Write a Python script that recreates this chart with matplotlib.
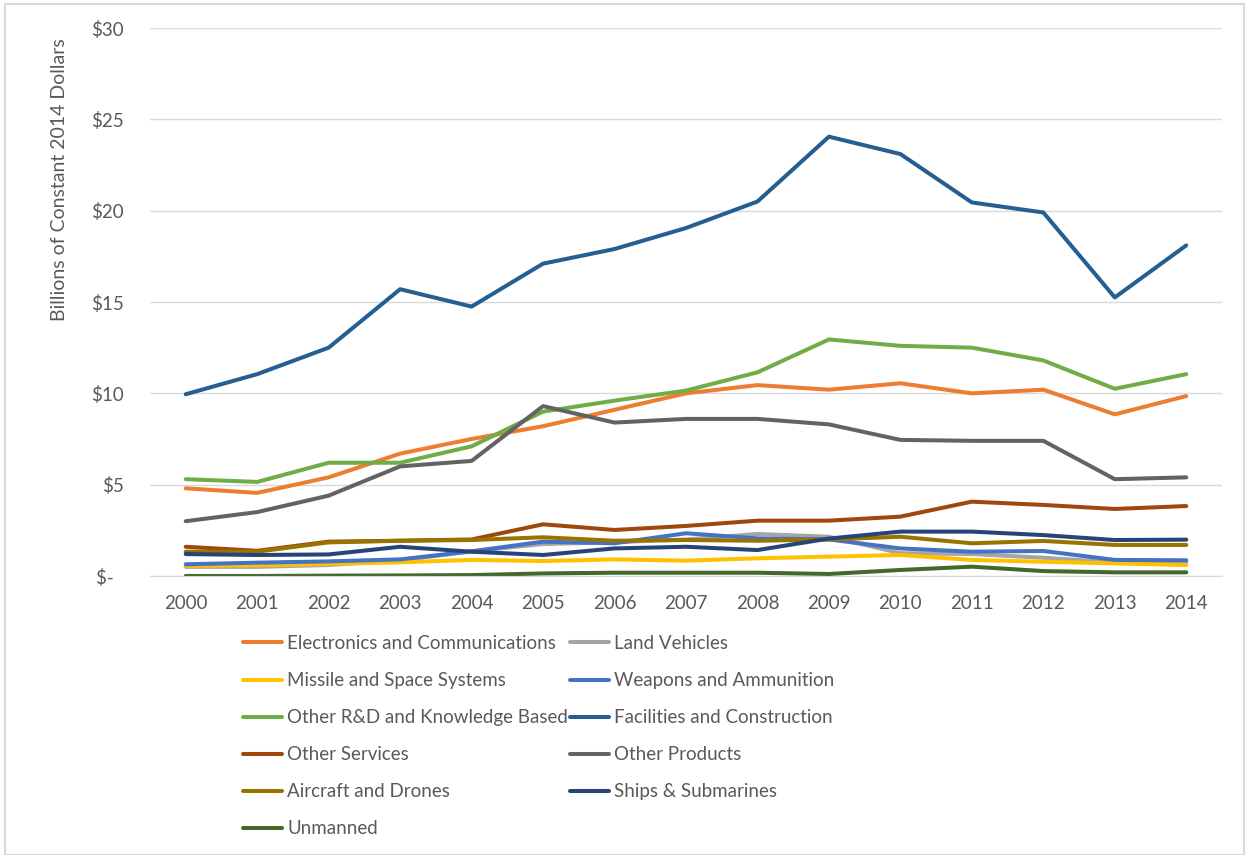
import numpy as np
import matplotlib
matplotlib.use('Agg')
import matplotlib.pyplot as plt
from matplotlib.patches import Rectangle

years = [str(y) for y in range(2000, 2015)]

electronics = [4.8, 4.55, 5.4, 6.7, 7.5, 8.2, 9.1, 10.0, 10.45, 10.2, 10.55, 10.0, 10.2, 8.85, 9.85]
land_vehicles = [0.5, 0.5, 0.6, 0.85, 1.35, 1.75, 1.85, 2.0, 2.3, 2.15, 1.25, 1.2, 1.0, 0.75, 0.75]
missile_space = [0.55, 0.58, 0.66, 0.75, 0.88, 0.82, 0.91, 0.84, 0.97, 1.06, 1.15, 0.88, 0.78, 0.69, 0.6]
weapons = [0.64, 0.73, 0.8, 0.91, 1.35, 1.88, 1.79, 2.34, 2.06, 2.0, 1.51, 1.33, 1.37, 0.88, 0.86]
other_rd = [5.3, 5.15, 6.2, 6.2, 7.1, 9.0, 9.6, 10.15, 11.15, 12.95, 12.6, 12.5, 11.8, 10.25, 11.05]
facilities = [9.95, 11.05, 12.5, 15.7, 14.75, 17.1, 17.9, 19.05, 20.5, 24.05, 23.1, 20.45, 19.9, 15.25, 18.1]
other_services = [1.6, 1.38, 1.88, 1.93, 2.0, 2.83, 2.52, 2.74, 3.03, 3.03, 3.25, 4.07, 3.89, 3.67, 3.83]
other_products = [3.0, 3.5, 4.4, 6.0, 6.3, 9.3, 8.4, 8.6, 8.6, 8.3, 7.45, 7.4, 7.4, 5.3, 5.4]
aircraft = [1.33, 1.33, 1.84, 1.93, 1.97, 2.12, 1.93, 1.97, 1.93, 2.0, 2.15, 1.79, 1.92, 1.7, 1.7]
ships = [1.2, 1.15, 1.18, 1.6, 1.33, 1.15, 1.51, 1.6, 1.42, 2.05, 2.43, 2.43, 2.24, 1.97, 1.99]
unmanned = [0.0, 0.0, 0.02, 0.03, 0.05, 0.14, 0.18, 0.18, 0.18, 0.11, 0.33, 0.51, 0.27, 0.2, 0.2]

series = [
    ("Electronics and Communications", electronics, "#ED7D31"),
    ("Land Vehicles", land_vehicles, "#A5A5A5"),
    ("Missile and Space Systems", missile_space, "#FFC000"),
    ("Weapons and Ammunition", weapons, "#4472C4"),
    ("Other R&D and Knowledge Based", other_rd, "#70AD47"),
    ("Facilities and Construction", facilities, "#255E91"),
    ("Other Services", other_services, "#9E480E"),
    ("Other Products", other_products, "#636363"),
    ("Aircraft and Drones", aircraft, "#997300"),
    ("Ships & Submarines", ships, "#264478"),
    ("Unmanned", unmanned, "#43682B"),
]

yticks = [0, 5, 10, 15, 20, 25, 30]
ytick_labels = ["$-  ", "$5", "$10", "$15", "$20", "$25", "$30"]

plt.rcParams['font.family'] = ['Lato', 'DejaVu Sans']
W, H = 1249, 855
fig = plt.figure(figsize=(W / 100, H / 100), dpi=100)
ax = fig.add_axes([150 / W, 1 - 576 / H, (1222 - 150) / W, (576 - 28) / H])

x = np.arange(len(years))
handles = {}
for name, vals, col in series:
    ln, = ax.plot(x, vals, color=col, lw=2.9, solid_capstyle='round', solid_joinstyle='round', label=name)
    handles[name] = ln

ax.set_xlim(-0.5, len(years) - 0.5)
ax.set_ylim(0, 30)
ax.set_xticks(x)
ax.set_xticklabels(years)
ax.set_yticks(yticks)
ax.set_yticklabels(ytick_labels)
ax.tick_params(axis='both', length=0, labelsize=13.5, labelcolor='#595959')
ax.tick_params(axis='y', pad=19)
ax.tick_params(axis='x', pad=14)
ax.grid(axis='y', color='#D9D9D9', lw=1)
ax.set_axisbelow(True)
for s in ['top', 'right', 'left']:
    ax.spines[s].set_visible(False)
ax.spines['bottom'].set_color('#D9D9D9')

fig.text(60 / W, 1 - 180 / H, "Billions of Constant 2014 Dollars", rotation=90,
         ha='center', va='center', fontsize=14, color='#595959')

# legend is row-major in the reference, matplotlib fills columns first
names = [s[0] for s in series]
order = names[0::2] + names[1::2]
leg = fig.legend([handles[n] for n in order], order, ncol=2, loc='upper left',
                 bbox_to_anchor=(243 / W, 1 - 635 / H), frameon=False, fontsize=13.5,
                 handlelength=2.1, handletextpad=0.25, columnspacing=0.1, labelspacing=1.07,
                 borderaxespad=0, borderpad=0)
for t in leg.get_texts():
    t.set_color('#595959')

fig.patches.append(Rectangle((5 / W, 0), (1244 - 5) / W, 1 - 4 / H, transform=fig.transFigure,
                             fill=False, edgecolor='#D9D9D9', lw=1.5))

fig.savefig('out.png', dpi=100)
